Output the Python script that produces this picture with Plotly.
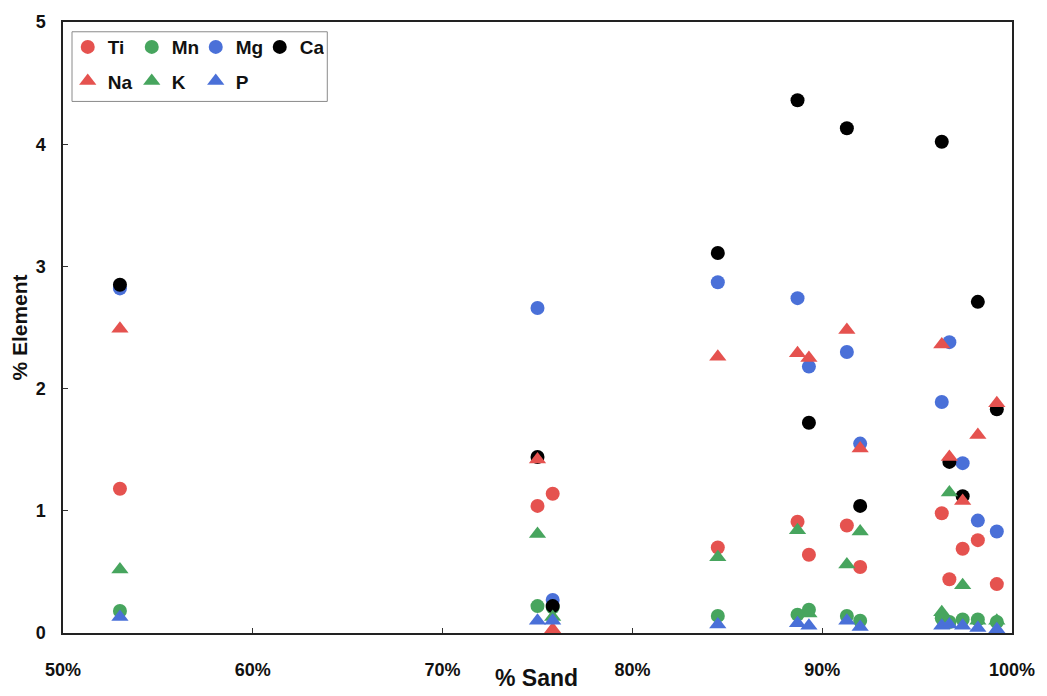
import plotly.graph_objects as go

# Sand content of each sample (%)
sand = [53.0, 75.0, 75.8, 84.5, 88.7, 89.3, 91.3, 92.0, 96.3, 96.7, 97.4, 98.2, 99.2]

# Element concentrations (%) per sample
ti = [1.18, 1.04, 1.14, 0.70, 0.91, 0.64, 0.88, 0.54, 0.98, 0.44, 0.69, 0.76, 0.40]
mn = [0.18, 0.22, 0.21, 0.14, 0.15, 0.19, 0.14, 0.10, 0.12, 0.09, 0.11, 0.11, 0.09]
mg = [2.82, 2.66, 0.27, 2.87, 2.74, 2.18, 2.30, 1.55, 1.89, 2.38, 1.39, 0.92, 0.83]
ca = [2.85, 1.44, 0.22, 3.11, 4.36, 1.72, 4.13, 1.04, 4.02, 1.40, 1.12, 2.71, 1.83]
na = [2.49, 1.42, 0.03, 2.26, 2.29, 2.25, 2.48, 1.51, 2.36, 1.44, 1.08, 1.62, 1.88]
k = [0.52, 0.81, 0.13, 0.62, 0.84, 0.16, 0.56, 0.83, 0.17, 1.15, 0.39, 0.10, 0.10]
p = [0.13, 0.10, 0.10, 0.07, 0.08, 0.06, 0.10, 0.05, 0.06, 0.07, 0.06, 0.04, 0.03]

x_ticks = [50, 60, 70, 80, 90, 100]
x_tick_text = ["50%", "60%", "70%", "80%", "90%", "100%"]
y_ticks = [0, 1, 2, 3, 4, 5]

RED = "#E5524F"
GREEN = "#47A55E"
BLUE = "#4A70D8"
BLACK = "#000000"

series = [
    ("Ti", ti, RED, "circle", "legend"),
    ("Mn", mn, GREEN, "circle", "legend"),
    ("Mg", mg, BLUE, "circle", "legend"),
    ("Ca", ca, BLACK, "circle", "legend"),
    ("Na", na, RED, "triangle-up", "legend2"),
    ("K", k, GREEN, "triangle-up", "legend2"),
    ("P", p, BLUE, "triangle-up", "legend2"),
]

FONT = "Liberation Sans, Arial, sans-serif"

fig = go.Figure()
for name, vals, color, symbol, leg in series:
    fig.add_trace(go.Scatter(
        x=sand, y=vals, mode="markers", name="<b>%s</b>" % name, legend=leg,
        marker=dict(color=color, symbol=symbol,
                    size=14 if symbol == "circle" else 15,
                    line=dict(width=0)),
    ))

legend_common = dict(
    orientation="h", xanchor="left", yanchor="middle",
    bgcolor="rgba(0,0,0,0)", borderwidth=0,
    font=dict(family=FONT, size=19, color="#111111"),
    entrywidth=19, entrywidthmode="pixels",
    itemwidth=30, tracegroupgap=0,
)

fig.update_layout(
    width=1047, height=696,
    margin=dict(l=63, r=29, t=17, b=63),
    paper_bgcolor="white", plot_bgcolor="white",
    font=dict(family=FONT, size=18, color="#111111"),
    showlegend=True,
    legend=dict(x=0.005, y=0.959, **legend_common),
    legend2=dict(x=0.005, y=0.903, **legend_common),
    xaxis=dict(
        range=[50, 100], tickvals=x_ticks,
        ticktext=["<b>%s</b>" % t for t in x_tick_text],
        ticks="inside", ticklen=5, tickcolor="#333333",
        showline=True, linecolor="#222222", linewidth=1.5, mirror=True,
        showgrid=False, zeroline=False,
        tickfont=dict(family=FONT, size=18, color="#111111"),
        ticklabelstandoff=20,
    ),
    yaxis=dict(
        range=[0, 5], tickvals=y_ticks,
        ticktext=["<b>%d</b>" % v for v in y_ticks],
        ticks="inside", ticklen=5, tickcolor="#333333",
        showline=True, linecolor="#222222", linewidth=1.5, mirror=True,
        showgrid=False, zeroline=False,
        tickfont=dict(family=FONT, size=18, color="#111111"),
        ticklabelstandoff=12,
        title=dict(text="<b>% Element</b>", font=dict(family=FONT, size=21),
                   standoff=2),
    ),
    shapes=[dict(
        type="rect", xref="paper", yref="paper",
        x0=0.0095, x1=0.2785, y0=0.870, y1=0.984,
        line=dict(color="#8A8A8A", width=1), fillcolor="rgba(0,0,0,0)",
        layer="below",
    )],
    annotations=[dict(
        text="<b>% Sand</b>", xref="paper", yref="paper",
        x=0.499, y=-0.073, xanchor="center", yanchor="middle",
        showarrow=False, font=dict(family=FONT, size=23, color="#111111"),
    )],
)

fig.write_html("out.html")
